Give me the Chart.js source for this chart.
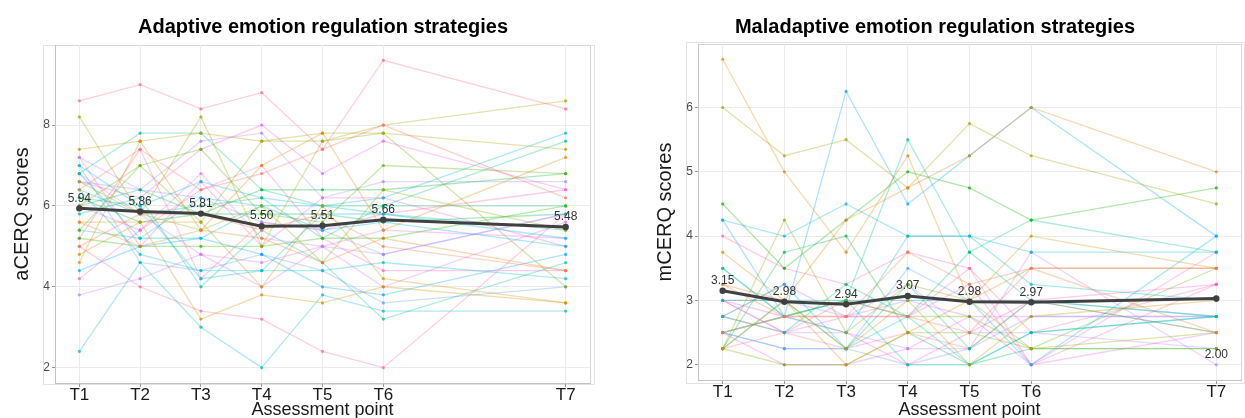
<!DOCTYPE html>
<html>
<head>
<meta charset="utf-8">
<script src="https://cdn.jsdelivr.net/npm/chart.js@4.4.1/dist/chart.umd.min.js"></script>
<style>
  html, body { margin: 0; padding: 0; background: #ffffff; }
  #wrap { position: relative; width: 1245px; height: 418px; overflow: hidden; }
  canvas { position: absolute; top: 0; }
  #adaptive { left: 0; }
  #maladaptive { left: 640px; }
</style>
</head>
<body>
<div id="wrap">
  <canvas id="adaptive" width="620" height="418"></canvas>
  <canvas id="maladaptive" width="605" height="418"></canvas>
</div>
<script>
// Assessment points (T7 is a later follow-up, hence the gap on the time axis)
const assessmentLabels = ['T1', 'T2', 'T3', 'T4', 'T5', 'T6', 'T7'];
const assessmentPos = [1, 2, 3, 4, 5, 6, 9];

// Group means
const aMean = [5.94, 5.86, 5.81, 5.50, 5.51, 5.66, 5.48];
const mMean = [3.15, 2.98, 2.94, 3.07, 2.98, 2.97, 3.03];
// Values printed above the mean line
const aMeanLabels = [5.94, 5.86, 5.81, 5.50, 5.51, 5.66, 5.48];
const mMeanLabels = [3.15, 2.98, 2.94, 3.07, 2.98, 2.97, 2.00];

// Y-axis ticks
const aYTicks = [2, 4, 6, 8];
const mYTicks = [2, 3, 4, 5, 6];

// Individual participants, adaptive strategies (aCERQ), T1..T7
const aScores = [
  [6.4, 7.4, 6.4, 6.8, 7.4, 8.0, 6.2],
  [5.0, 5.8, 5.8, 5.4, 5.8, 5.0, 4.4],
  [5.6, 5.0, 5.4, 5.2, 4.6, 5.2, 4.4],
  [4.6, 7.6, 5.4, 7.0, 7.8, 5.4, 7.2],
  [5.6, 5.6, 3.2, 3.8, 3.6, 4.0, 3.6],
  [4.8, 5.6, 5.6, 4.0, 6.0, 4.2, 3.6],
  [7.4, 7.6, 7.8, 7.6, 7.8, 7.8, 7.4],
  [8.2, 5.8, 8.2, 5.0, 7.6, 8.0, 8.6],
  [6.6, 5.8, 5.4, 6.0, 4.6, 6.4, 5.4],
  [6.0, 7.0, 5.6, 7.6, 7.6, 7.8, 4.0],
  [5.4, 7.0, 7.4, 5.8, 5.6, 7.0, 6.8],
  [5.2, 5.0, 5.0, 5.0, 5.2, 5.2, 6.0],
  [6.2, 5.6, 5.8, 6.4, 6.4, 6.4, 6.8],
  [6.0, 6.4, 5.8, 5.8, 5.8, 5.6, 5.8],
  [6.4, 5.8, 6.0, 6.2, 5.2, 6.0, 6.0],
  [6.8, 7.8, 7.8, 6.4, 6.0, 6.0, 7.6],
  [5.8, 6.2, 4.0, 5.4, 4.6, 3.2, 4.6],
  [5.4, 5.2, 5.2, 6.0, 6.0, 5.8, 5.4],
  [2.4, 4.6, 3.0, 2.0, 3.8, 3.4, 3.4],
  [6.4, 4.8, 4.4, 4.4, 4.4, 4.6, 4.2],
  [6.2, 6.0, 4.2, 4.4, 5.8, 5.8, 5.2],
  [7.0, 6.0, 6.6, 6.2, 6.0, 6.2, 7.8],
  [6.8, 5.2, 6.2, 6.0, 5.4, 5.6, 5.0],
  [4.4, 5.0, 5.2, 4.8, 4.0, 3.8, 4.8],
  [7.0, 4.6, 4.4, 4.8, 4.4, 3.6, 4.0],
  [6.6, 6.4, 6.2, 5.6, 5.4, 4.8, 5.8],
  [7.2, 6.4, 7.6, 7.8, 6.2, 6.6, 6.6],
  [3.8, 4.2, 4.8, 4.6, 5.0, 4.8, 5.8],
  [6.0, 5.4, 6.8, 5.2, 5.0, 4.0, 5.6],
  [6.8, 5.8, 4.8, 4.0, 5.0, 5.4, 5.2],
  [6.6, 6.2, 7.4, 8.0, 6.8, 7.6, 6.4],
  [7.2, 5.0, 6.6, 5.0, 6.2, 6.2, 5.0],
  [4.2, 5.4, 6.4, 7.0, 5.2, 4.4, 4.4],
  [5.2, 7.4, 4.2, 5.6, 5.4, 5.8, 6.4],
  [5.0, 4.0, 3.4, 3.2, 2.4, 2.0, 5.8],
  [8.6, 9.0, 8.4, 8.8, 7.4, 9.6, 8.4]
];

// Individual participants, maladaptive strategies (mCERQ), T1..T7
const mScores = [
  [2.5, 2.75, 2.75, 2.75, 2.5, 3.5, 3.5],
  [3.25, 2.75, 2.75, 3.75, 3.25, 3.5, 2.5],
  [3.25, 3.0, 4.25, 4.75, 5.25, 6.0, 5.0],
  [6.75, 5.0, 3.75, 5.25, 3.0, 3.5, 3.5],
  [3.75, 3.0, 2.0, 2.5, 3.0, 4.0, 3.5],
  [2.25, 3.0, 2.25, 3.0, 2.0, 2.75, 3.0],
  [6.0, 5.25, 5.5, 4.75, 5.75, 5.25, 4.5],
  [2.25, 4.25, 2.5, 3.25, 3.0, 2.25, 2.5],
  [2.25, 2.0, 2.0, 2.5, 2.5, 2.25, 2.25],
  [2.5, 2.75, 3.0, 2.75, 2.75, 2.25, 3.5],
  [4.5, 3.5, 4.25, 5.0, 4.75, 4.25, 4.75],
  [2.25, 3.75, 4.0, 2.5, 2.0, 2.25, 2.25],
  [3.0, 3.0, 2.25, 3.25, 2.25, 3.0, 2.5],
  [2.75, 2.5, 3.25, 2.75, 3.75, 3.0, 2.75],
  [3.5, 2.75, 3.0, 5.5, 3.75, 4.25, 3.75],
  [2.25, 3.0, 3.0, 2.0, 2.0, 2.5, 2.75],
  [3.5, 2.75, 2.5, 4.0, 4.0, 3.25, 3.0],
  [2.75, 3.25, 2.25, 2.75, 2.0, 2.5, 2.75],
  [4.25, 4.0, 4.5, 4.0, 4.0, 3.75, 3.75],
  [2.5, 2.75, 3.0, 3.0, 3.0, 2.0, 4.0],
  [4.25, 2.75, 6.25, 4.5, 5.25, 6.0, 4.0],
  [2.5, 2.25, 2.25, 3.5, 3.0, 3.0, 2.75],
  [2.5, 2.25, 2.25, 2.0, 2.25, 2.75, 2.75],
  [3.0, 3.0, 2.75, 3.25, 2.5, 2.5, 2.25],
  [3.0, 2.5, 2.5, 2.25, 2.25, 3.75, 2.0],
  [2.75, 3.25, 2.75, 3.0, 2.75, 2.75, 2.75],
  [2.5, 2.0, 2.0, 2.25, 2.75, 2.0, 2.5],
  [3.0, 2.5, 2.75, 2.75, 3.25, 2.0, 3.75],
  [3.0, 2.75, 2.5, 2.0, 2.5, 3.0, 3.25],
  [4.0, 3.5, 3.25, 3.75, 3.5, 2.0, 3.25],
  [2.75, 2.5, 3.0, 2.75, 3.5, 2.5, 3.25],
  [2.25, 2.5, 2.25, 2.5, 2.25, 3.0, 2.5]
];

const FONT = "'Liberation Sans', Arial, sans-serif";

// ggplot-style evenly spaced HCL hues (c = 100, l = 65)
function hclToRgb(h, c, l) {
  const hr = h * Math.PI / 180;
  const u = c * Math.cos(hr), v = c * Math.sin(hr);
  const Xn = 95.047, Yn = 100, Zn = 108.883;
  const den = Xn + 15 * Yn + 3 * Zn;
  const un = 4 * Xn / den, vn = 9 * Yn / den;
  const Y = l > 8 ? Yn * Math.pow((l + 16) / 116, 3) : Yn * l / 903.3;
  const up = u / (13 * l) + un, vp = v / (13 * l) + vn;
  const X = Y * 9 * up / (4 * vp);
  const Z = Y * (12 - 3 * up - 20 * vp) / (4 * vp);
  const x = X / 100, y = Y / 100, z = Z / 100;
  const lin = [
    3.2406 * x - 1.5372 * y - 0.4986 * z,
    -0.9689 * x + 1.8758 * y + 0.0415 * z,
    0.0557 * x - 0.2040 * y + 1.0570 * z
  ];
  return lin.map(ch => {
    const g = ch <= 0.0031308 ? 12.92 * ch : 1.055 * Math.pow(ch, 1 / 2.4) - 0.055;
    return Math.round(Math.min(1, Math.max(0, g)) * 255);
  });
}
function huePalette(n) {
  const out = [];
  for (let i = 0; i < n; i++) out.push(hclToRgb(15 + 360 * i / n, 100, 65));
  return out;
}
const rgba = (c, a) => `rgba(${c[0]},${c[1]},${c[2]},${a})`;

// Titles, frames and mean-value labels
const panelDecor = {
  id: 'panelDecor',
  beforeDraw(chart, args, opts) {
    const ctx = chart.ctx;
    const a = chart.chartArea;
    ctx.save();
    ctx.fillStyle = '#ffffff';
    ctx.fillRect(0, 0, chart.width, chart.height);
    // outer frame
    ctx.strokeStyle = '#e2e2e2';
    ctx.lineWidth = 1;
    const f = opts.frame;
    ctx.strokeRect(f[0] + 0.5, f[1] + 0.5, f[2] - f[0], f[3] - f[1]);
    // inner panel box
    ctx.strokeStyle = '#d6d6d6';
    ctx.strokeRect(a.left + 0.5, a.top + 0.5, a.right - a.left, a.bottom - a.top);
    // title
    ctx.fillStyle = '#000000';
    ctx.font = `bold 20px ${FONT}`;
    ctx.textAlign = 'center';
    ctx.textBaseline = 'middle';
    ctx.fillText(opts.title, opts.titleX, 27);
    ctx.restore();
  },
  afterDatasetsDraw(chart, args, opts) {
    const ctx = chart.ctx;
    const xs = chart.scales.x, ys = chart.scales.y;
    ctx.save();
    ctx.font = `12px ${FONT}`;
    ctx.fillStyle = '#333333';
    ctx.textAlign = 'center';
    ctx.textBaseline = 'middle';
    opts.labels.forEach((v, i) => {
      const px = xs.getPixelForValue(assessmentPos[i]);
      const py = ys.getPixelForValue(v) - 10;
      ctx.fillText(v.toFixed(2), px, py);
    });
    ctx.restore();
  }
};

function makePanel(canvasId, cfg) {
  const colors = huePalette(cfg.scores.length);
  const datasets = [{
    data: cfg.mean.map((v, j) => ({ x: assessmentPos[j], y: v })),
    borderColor: '#404040',
    borderWidth: 3,
    pointRadius: 3.2,
    pointBackgroundColor: '#404040',
    pointBorderWidth: 0,
    order: 0
  }];
  cfg.scores.forEach((row, i) => {
    datasets.push({
      data: row.map((v, j) => ({ x: assessmentPos[j], y: v })),
      borderColor: rgba(colors[i], 0.32),
      borderWidth: 1.3,
      pointRadius: 1.6,
      pointBackgroundColor: rgba(colors[i], 0.75),
      pointBorderWidth: 0,
      order: 1
    });
  });

  return new Chart(document.getElementById(canvasId), {
    type: 'line',
    data: { datasets },
    options: {
      responsive: false,
      animation: false,
      devicePixelRatio: 1,
      events: [],
      layout: { padding: cfg.padding },
      elements: { line: { tension: 0 } },
      plugins: {
        legend: { display: false },
        tooltip: { enabled: false },
        panelDecor: { title: cfg.title, titleX: cfg.titleX, frame: cfg.frame, labels: cfg.labels }
      },
      scales: {
        x: {
          type: 'linear',
          min: 0.6,
          max: 9.4,
          afterBuildTicks: s => { s.ticks = assessmentPos.map(v => ({ value: v })); },
          afterFit: s => { s.height = cfg.xAxisHeight; },
          ticks: {
            autoSkip: false,
            maxRotation: 0,
            padding: -2,
            color: '#1a1a1a',
            font: { family: FONT, size: 17 },
            callback: v => assessmentLabels[assessmentPos.indexOf(v)]
          },
          grid: { color: '#ebebeb', lineWidth: 1, tickColor: '#9a9a9a', tickLength: 4 },
          border: { display: true, color: '#c4c4c4' },
          title: {
            display: true,
            text: 'Assessment point',
            color: '#1a1a1a',
            font: { family: FONT, size: 18, lineHeight: 1 },
            padding: { top: 0, bottom: -1 }
          }
        },
        y: {
          min: cfg.yMin,
          max: cfg.yMax,
          afterBuildTicks: s => { s.ticks = cfg.yTicks.map(v => ({ value: v })); },
          afterFit: s => { s.width = cfg.yAxisWidth; },
          ticks: {
            padding: 2,
            color: '#4d4d4d',
            font: { family: FONT, size: 12 }
          },
          grid: { color: '#ebebeb', lineWidth: 1, tickColor: '#9a9a9a', tickLength: 3 },
          border: { display: true, color: '#c4c4c4' },
          title: {
            display: true,
            text: cfg.yTitle,
            color: '#1a1a1a',
            font: { family: FONT, size: 20 },
            padding: { top: cfg.yTitlePad, bottom: 0 }
          }
        }
      }
    },
    plugins: [panelDecor]
  });
}

makePanel('adaptive', {
  title: 'Adaptive emotion regulation strategies',
  titleX: 323,
  yTitle: 'aCERQ scores',
  scores: aScores,
  mean: aMean,
  labels: aMeanLabels,
  yTicks: aYTicks,
  yMin: 1.62,
  yMax: 9.98,
  padding: { left: 0, top: 45, right: 30, bottom: 0 },
  yAxisWidth: 55,
  xAxisHeight: 35,
  yTitlePad: 10,
  frame: [43, 45, 594, 384]
});

makePanel('maladaptive', {
  title: 'Maladaptive emotion regulation strategies',
  titleX: 295,
  yTitle: 'mCERQ scores',
  scores: mScores,
  mean: mMean,
  labels: mMeanLabels,
  yTicks: mYTicks,
  yMin: 1.7625,
  yMax: 6.9875,
  padding: { left: 0, top: 44, right: 1, bottom: 0 },
  yAxisWidth: 58,
  xAxisHeight: 38,
  yTitlePad: 13,
  frame: [46, 42, 604, 383]
});
</script>
</body>
</html>
